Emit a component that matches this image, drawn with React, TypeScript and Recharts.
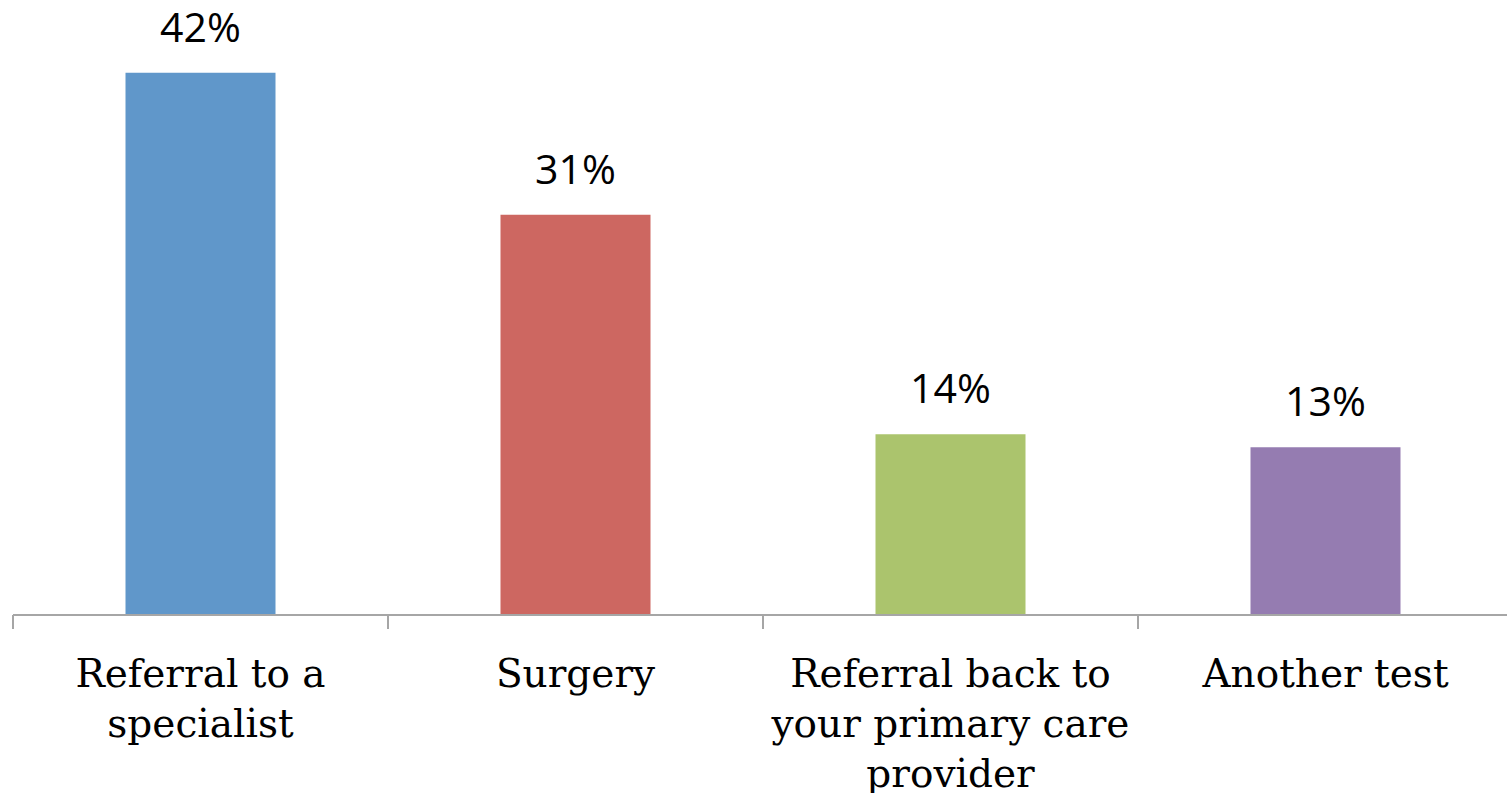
import { BarChart, Bar, XAxis, YAxis, Cell, LabelList } from 'recharts';

const categories = ['Referral to a specialist', 'Surgery', 'Referral back to your primary care provider', 'Another test'];
const shares = [42, 31, 14, 13];
const barColors = ['#6097CA', '#CD6761', '#ABC46D', '#957CB1'];

const data = categories.map((name, i) => ({ name, value: shares[i] }));

const CHART_W = 1520;
const CHART_H = 793;
const MARGIN = { top: 34, right: 7, left: 13, bottom: 0 };
const PLOT_W = CHART_W - MARGIN.left - MARGIN.right;
const BAND = PLOT_W / categories.length;
const AXIS_COLOR = '#A6A6A6';
const TICK_SIZE = 39;
const TICK_FONT = `${TICK_SIZE}px "DejaVu Serif"`;
const WRAP_W = 368;

// break a category name into lines that fit the band
function wrapWords(text: string): string[] {
    const ctx = document.createElement('canvas').getContext('2d')!;
    ctx.font = TICK_FONT;
    const lines: string[] = [];
    let cur = '';
    for (const w of text.split(' ')) {
        const next = cur ? cur + ' ' + w : w;
        if (cur && ctx.measureText(next).width > WRAP_W) {
            lines.push(cur);
            cur = w;
        } else {
            cur = next;
        }
    }
    if (cur) lines.push(cur);
    return lines;
}

function CategoryTick(props: any) {
    const { x, y, payload, index } = props;
    const left = x - BAND / 2;
    const right = x + BAND / 2;
    const lines = wrapWords(String(payload.value));
    return (
        <g>
            <line x1={left} y1={y} x2={left} y2={y + 14} stroke={AXIS_COLOR} strokeWidth={2} />
            {index === categories.length - 1 && (
                <line x1={right} y1={y} x2={right} y2={y + 14} stroke={AXIS_COLOR} strokeWidth={2} />
            )}
            <text
                x={x}
                y={y + 72}
                textAnchor="middle"
                fill="#000"
                style={{ fontFamily: '"DejaVu Serif", serif', fontSize: TICK_SIZE }}
            >
                {lines.map((line, i) => (
                    <tspan key={i} x={x} dy={i === 0 ? 0 : 50}>{line}</tspan>
                ))}
            </text>
        </g>
    );
}

export default function App() {
    return (
        <div style={{ position: 'absolute', top: 0, left: 0, width: 1507, height: 793, overflow: 'hidden', background: '#fff' }}>
            <BarChart width={CHART_W} height={CHART_H} data={data} margin={MARGIN} barCategoryGap="30%">
                <XAxis
                    dataKey="name"
                    height={178}
                    tickSize={0}
                    tickMargin={0}
                    tickLine={false}
                    axisLine={{ stroke: AXIS_COLOR, strokeWidth: 2 }}
                    interval={0}
                    tick={<CategoryTick />}
                />
                <YAxis hide domain={[0, 45]} />
                <Bar dataKey="value" isAnimationActive={false}>
                    {data.map((d, i) => (
                        <Cell key={d.name} fill={barColors[i]} />
                    ))}
                    <LabelList
                        dataKey="value"
                        position="top"
                        offset={31}
                        formatter={(v: any) => `${v}%`}
                        style={{ fontFamily: '"Open Sans", sans-serif', fontSize: 41, fill: '#000' }}
                    />
                </Bar>
            </BarChart>
        </div>
    );
}
